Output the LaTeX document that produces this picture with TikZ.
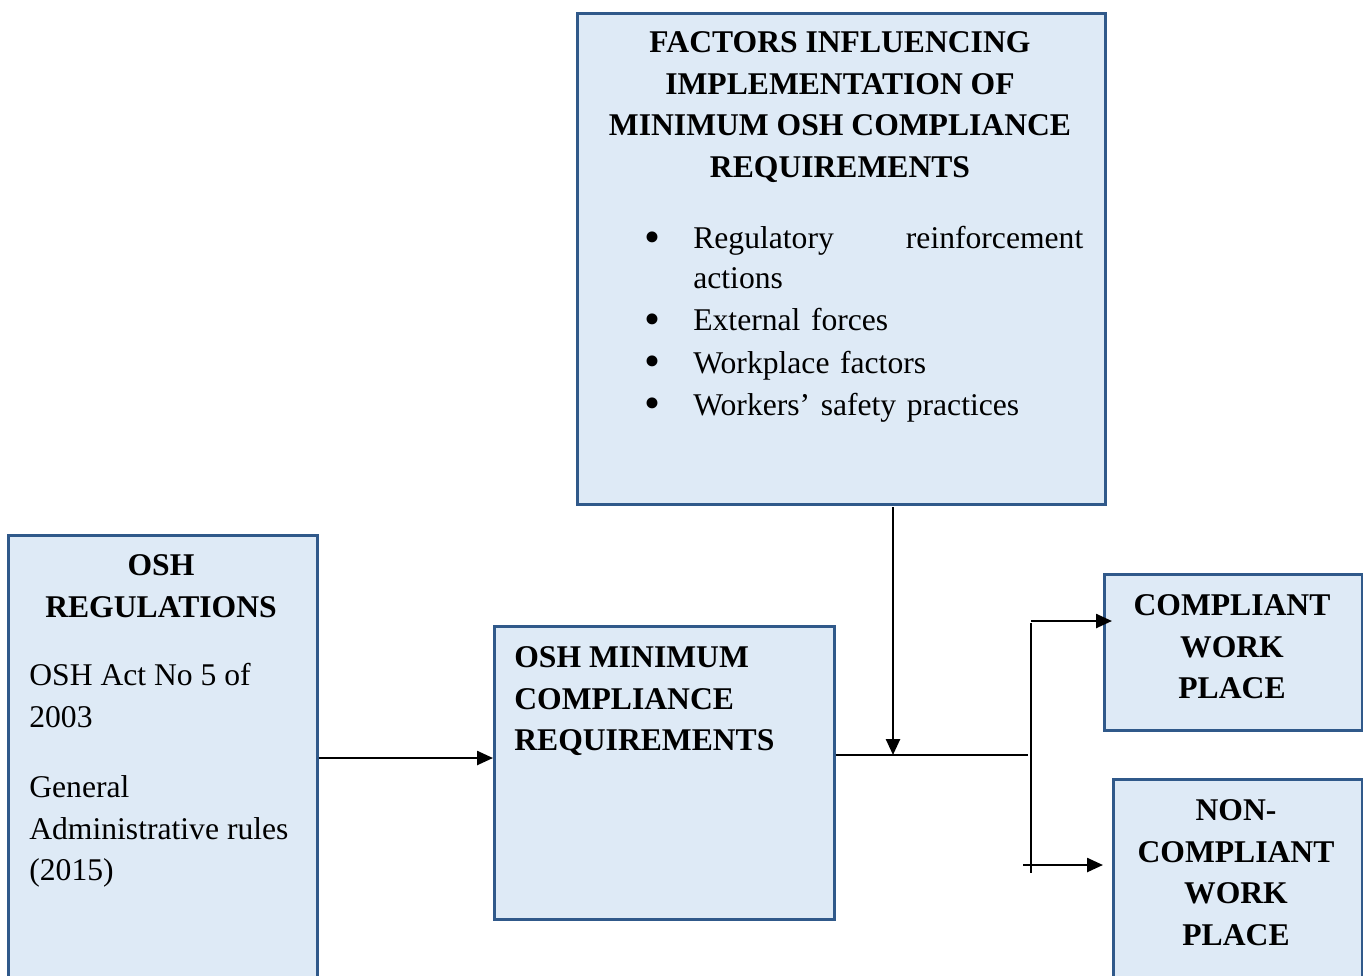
\documentclass[tikz,border=0pt]{standalone}
\usepackage{fontspec}
\setmainfont{Liberation Serif}
\usetikzlibrary{arrows.meta}
\definecolor{boxfill}{HTML}{DEEAF6}
\definecolor{boxline}{HTML}{30598A}
\newcommand{\bitem}{\leavevmode\llap{\raisebox{-2pt}{\fontsize{26}{26}\selectfont\textbullet}\hspace{0.66cm}}}

\begin{document}
\begin{tikzpicture}[x=0.02cm, y=-0.02cm,
	box/.style={draw=boxline, fill=boxfill, line width=1.5pt, inner sep=0pt, anchor=north west},
	txt/.style={inner sep=0pt, font=\fontsize{18}{23.8}\selectfont},
	head/.style={inner sep=0pt, font=\fontsize{18}{23.8}\selectfont\bfseries},
	arr/.style={-{Triangle[length=0.32cm, width=0.28cm]}, line width=1.4pt},
	link/.style={line width=1.4pt}]
	\useasboundingbox (0,0) rectangle (1363,975);

	\node [box, minimum width=10.56cm, minimum height=9.82cm] (factors) at (576,12) {};
	\node [box, minimum width=6.18cm, minimum height=9.12cm] (regs) at (7,534) {};
	\node [box, minimum width=6.8cm, minimum height=5.86cm] (minreq) at (493,625) {};
	\node [box, minimum width=5.16cm, minimum height=3.12cm] (compliant) at (1103,573) {};
	\node [box, minimum width=4.98cm, minimum height=4.24cm] (noncomp) at (1112,778) {};

	\node [head, align=center, anchor=north] (factorshead) at (840,31) {FACTORS INFLUENCING\\IMPLEMENTATION OF\\MINIMUM OSH COMPLIANCE\\REQUIREMENTS};
	\node [txt, text width=7.8cm, anchor=north west, font=\fontsize{18}{22.8}\selectfont] (factorslist) at (693,226)
		{\bitem\makebox[\linewidth][s]{Regulatory\hfill reinforcement}\\actions\\[1.2pt]
		 \bitem External forces\\[1.2pt]
		 \bitem Workplace factors\\[1.2pt]
		 \bitem Workers’ safety practices};

	\node [head, align=center, anchor=north] (regshead) at (161,554) {OSH\\REGULATIONS};
	\node [txt, align=left, anchor=north west] (regsact) at (29,663) {OSH Act No 5 of\\2003};
	\node [txt, align=left, anchor=north west] (regsrules) at (29,775) {General\\Administrative rules\\(2015)};

	\node [head, align=left, anchor=north west] (minreqhead) at (514,646) {OSH MINIMUM\\COMPLIANCE\\REQUIREMENTS};
	\node [head, align=center, anchor=north] (complianthead) at (1232,594) {COMPLIANT\\WORK\\PLACE};
	\node [head, align=center, anchor=north] (noncomphead) at (1236,799) {NON-\\COMPLIANT\\WORK\\PLACE};

	\coordinate (drop) at (893,507);
	\coordinate (join) at (1028,755);
	\coordinate (forktop) at (1031,621);
	\coordinate (forkbot) at (1031,873);
	\coordinate (lowstart) at (1023,865);

	\draw [arr] (regs.east |- 0,758) -- (minreq.west |- 0,758);
	\draw [link] (minreq.east |- join) -- (join);
	\draw [arr] (drop) -- (drop |- join);
	\draw [link] (1031,623) -- (forkbot);
	\draw [arr, shorten >=-0.18cm] (forktop) -- (forktop -| compliant.west);
	\draw [arr] (lowstart) -- ([xshift=-0.18cm]lowstart -| noncomp.west);
\end{tikzpicture}
\end{document}
